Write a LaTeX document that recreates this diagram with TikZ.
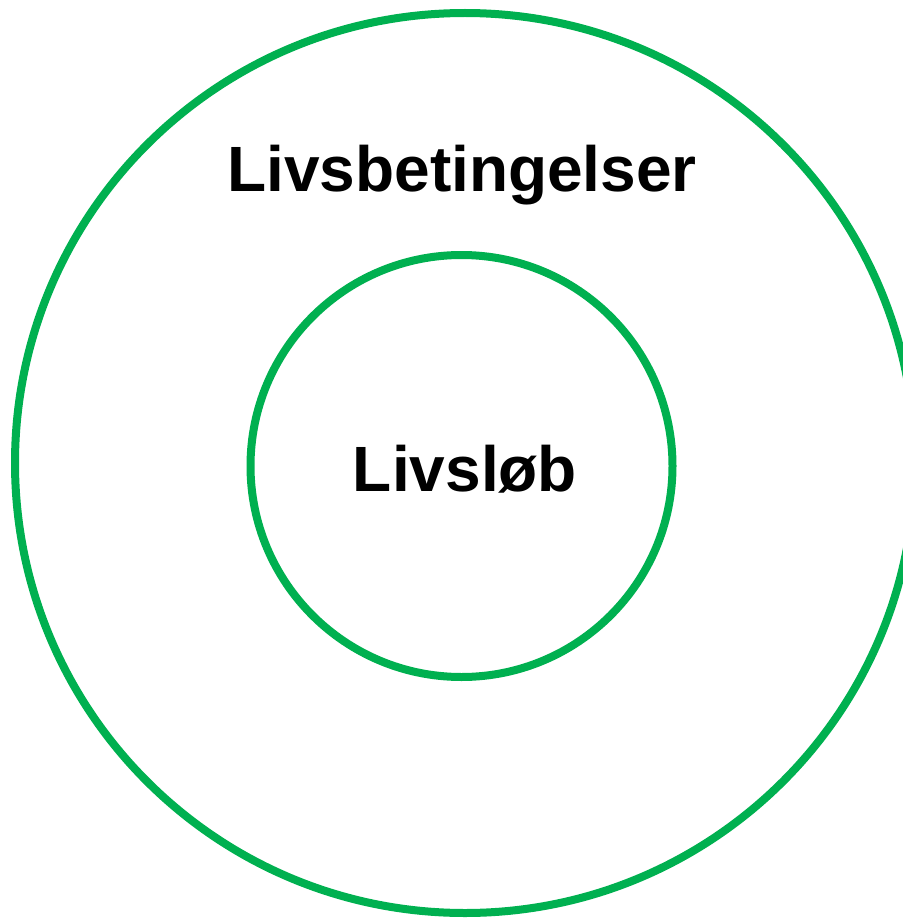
\documentclass[tikz,border=0pt]{standalone}
\usepackage{fontspec}
\setmainfont{Liberation Sans}
\usepackage{xcolor}
\definecolor{ringgreen}{RGB}{0,176,80}

\begin{document}
\begin{tikzpicture}[x=1pt, y=-1pt, every node/.style={font=\fontsize{64}{72}\selectfont\bfseries}]
\useasboundingbox (0,0) rectangle (902,920);
% outer and inner ring
\node[circle, draw=ringgreen, line width=8pt, inner sep=0pt, minimum size=900pt] (outer) at (465,463) {};
\node[circle, draw=ringgreen, line width=8pt, inner sep=0pt, minimum size=422pt] (inner) at (461.5,466) {};
\node[anchor=base] (lifecond) at (462,192) {Livsbetingelser};
\node[anchor=base] (lifecourse) at (465,491) {Livsløb};
\end{tikzpicture}
\end{document}
